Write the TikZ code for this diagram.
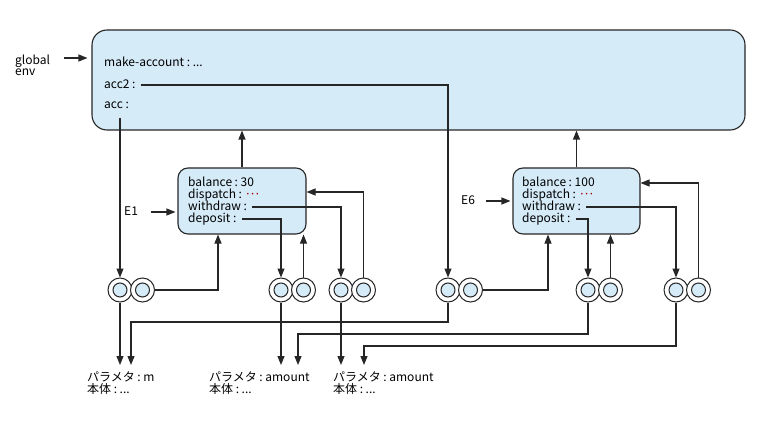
\documentclass[tikz,border=0pt]{standalone}
\usepackage{fontspec}
\setmainfont{Noto Sans CJK JP}
\usetikzlibrary{arrows.meta}
\definecolor{fr}{HTML}{D5EBF8}
\newcommand{\cl}{\hspace{2.6pt}:\hspace{2.6pt}}
\newcommand{\mdots}{{\color{red!65!black}·\kern-2pt·\kern-2pt·}}
\begin{document}
\begin{tikzpicture}[x=1pt,y=-1pt,
  font=\fontsize{12}{12.5}\selectfont,
  ln/.style={line width=1.1pt, draw=black!85},
  arr/.style={ln, -{Triangle[length=9pt,width=7pt]}},
  frame/.style={draw=black!85, line width=1.1pt, fill=fr, rounded corners=10pt},
  txt/.style={anchor=west, inner sep=0pt, text height=7.5pt, text depth=0pt},
  outer/.style={circle, draw=black!85, line width=1pt, fill=white, minimum size=24pt, inner sep=0pt},
  inner/.style={circle, draw=black!85, line width=1pt, fill=fr, minimum size=14pt, inner sep=0pt},
  lbl/.style={anchor=north west, inner sep=0pt, align=left, font=\fontsize{12}{12}\selectfont}]
\useasboundingbox (0,0) rectangle (775,430);

% global environment
\node[frame, rounded corners=15pt, minimum width=653pt, minimum height=100pt] (gbox) at (418.5,80) {};
\node[txt] (mk) at (104,63) {make-account\cl...};
\node[txt] (acc2) at (104,85) {acc2\cl};
\node[txt] (acc) at (104,105) {acc\cl};
\node[anchor=west, inner sep=0pt, align=left, font=\fontsize{12}{11}\selectfont] (genv) at (15,65) {global\\env};
\coordinate (ga) at (64,58);
\draw[arr, shorten >=4pt] (ga) -- (ga -| gbox.west);

% frame E1
\node[frame, minimum width=128pt, minimum height=66pt] (e1) at (242,201) {};
\node[txt] (bal1) at (188,183) {balance\cl30};
\node[txt] (dis1) at (188,195) {dispatch\cl\mdots};
\node[txt] (wd1) at (188,207) {withdraw\cl};
\node[txt] (dp1) at (188,219) {deposit\cl};
\node[txt] (e1l) at (124,212) {E1};
\draw[arr, shorten >=2pt] ([xshift=13pt]e1l.east) -- (e1l.east -| e1.west);
\draw[arr] (e1.north) -- (e1.north |- gbox.south);

% frame E6
\node[frame, minimum width=127pt, minimum height=66pt] (e6) at (576.5,201) {};
\node[txt] (bal6) at (522,183) {balance\cl100};
\node[txt] (dis6) at (522,195) {dispatch\cl\mdots};
\node[txt] (wd6) at (522,207) {withdraw\cl};
\node[txt] (dp6) at (522,219) {deposit\cl};
\node[txt] (e6l) at (461,201) {E6};
\draw[arr, shorten >=2pt] ([xshift=11pt]e6l.east) -- (e6l.east -| e6.west);
\draw[arr] (e6.north) -- (e6.north |- gbox.south);

% procedure objects
\foreach \n/\x in {1/120,2/281,3/341,4/448,5/588,6/676} {
  \node[outer] (p\n-a) at (\x,290) {};
  \node[inner] at (p\n-a) {};
  \node[outer] (p\n-b) at (\x+22.5,290) {};
  \node[inner] at (p\n-b) {};
}

% bindings in global env
\coordinate (accs) at (120,118);
\draw[arr] (accs) -- (p1-a.north);
\draw[arr] ([xshift=5pt]acc2.east) -| (p4-a.north);

% E1 connections
\draw[arr] (p1-b.east) -| ([xshift=-24pt]e1.south);
\draw[arr] ([xshift=5pt]wd1.east) -| (p3-a.north);
\draw[arr] ([xshift=5pt]dp1.east) -| (p2-a.north);
\draw[arr] (p2-b.north) -- (p2-b.north |- e1.south);
\draw[arr] (p3-b.north) |- ([yshift=9pt]e1.east);

% E6 connections
\draw[arr] (p4-b.east) -| ([xshift=-28.5pt]e6.south);
\draw[arr] ([xshift=5pt]wd6.east) -| (p6-a.north);
\draw[arr] ([xshift=5pt]dp6.east) -| (p5-a.north);
\draw[arr] (p5-b.north) -- (p5-b.north |- e6.south);
\draw[arr] (p6-b.north) |- ([yshift=18pt]e6.east);

% bodies
\node[lbl] (b1) at (87,372) {パラメタ\cl m\\本体\cl...};
\node[lbl] (b2) at (209,372) {パラメタ\cl amount\\本体\cl...};
\node[lbl] (b3) at (333,372) {パラメタ\cl amount\\本体\cl...};

\coordinate (c4) at (131,322);
\coordinate (c5) at (298,334);
\coordinate (c6) at (364,346);
\draw[arr, shorten >=7pt] (p1-a.south) -- (p1-a.south |- b1.north);
\draw[arr, shorten >=7pt] (p4-a.south) |- (c4) -- (c4 |- b1.north);
\draw[arr, shorten >=7pt] (p2-a.south) -- (p2-a.south |- b2.north);
\draw[arr, shorten >=7pt] (p5-a.south) |- (c5) -- (c5 |- b2.north);
\draw[arr, shorten >=7pt] (p3-a.south) -- (p3-a.south |- b3.north);
\draw[arr, shorten >=7pt] (p6-a.south) |- (c6) -- (c6 |- b3.north);
\end{tikzpicture}
\end{document}
